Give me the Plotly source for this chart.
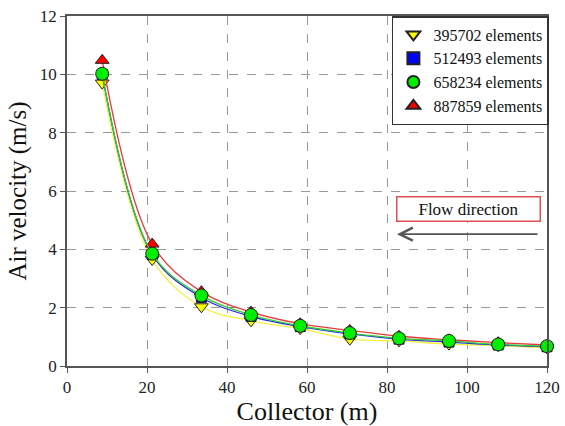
import plotly.graph_objects as go

x_pos = [8.8, 21.3, 33.6, 46.0, 58.3, 70.7, 83.0, 95.5, 107.8, 120.0]
v_395702 = [9.70, 3.65, 2.03, 1.55, 1.28, 0.92, 0.86, 0.75, 0.70, 0.62]
v_512493 = [10.00, 3.82, 2.35, 1.70, 1.35, 1.10, 0.92, 0.82, 0.72, 0.66]
v_658234 = [10.02, 3.85, 2.42, 1.75, 1.38, 1.13, 0.95, 0.86, 0.74, 0.68]
v_887859 = [10.48, 4.18, 2.55, 1.85, 1.45, 1.22, 1.02, 0.90, 0.80, 0.72]
names = ["395702 elements", "512493 elements", "658234 elements", "887859 elements"]

SERIF = "Liberation Serif, Times New Roman, serif"

fig = go.Figure()
series = [
    (v_395702, "#f5f03a", "#ffff00", "triangle-down", 12),
    (v_512493, "#2a2adf", "#0000ff", "square", 10),
    (v_887859, "#e83a3a", "#ff0000", "triangle-up", 12),
    (v_658234, "#33cc33", "#00ee00", "circle", 13),
]
order_names = [names[0], names[1], names[3], names[2]]
for (vals, lc, mc, sym, sz), nm in zip(series, order_names):
    fig.add_trace(go.Scatter(
        x=x_pos, y=vals, name=nm, mode="lines+markers",
        line=dict(color=lc, width=1.3, shape="spline", smoothing=1.0),
        marker=dict(symbol=sym, size=sz, color=mc, line=dict(color="#222222", width=1)),
        showlegend=False, cliponaxis=False,
    ))
# legend entries (markers only), in reference order
leg = [(names[0], "#ffff00", "triangle-down"), (names[1], "#0000ff", "square"),
       (names[2], "#00ee00", "circle"), (names[3], "#ff0000", "triangle-up")]
for nm, c, sym in leg:
    fig.add_trace(go.Scatter(
        x=[-50], y=[-50], name=nm, mode="markers",
        marker=dict(symbol=sym, size=12, color=c, line=dict(color="#222222", width=1)),
    ))

axis_common = dict(
    showline=True, linecolor="#555555", linewidth=1.5, mirror=True,
    ticks="outside", ticklen=5, tickcolor="#555555",
    showgrid=True, gridcolor="#999999", griddash="dash", gridwidth=1,
    zeroline=False, automargin=False, ticklabeloverflow="allow",
    tickfont=dict(family=SERIF, size=17, color="#222222"),
)
fig.update_xaxes(range=[0, 120], dtick=20, title=dict(text="Collector (m)",
                 font=dict(family=SERIF, size=26, color="#111111"), standoff=4),
                 **axis_common)
fig.update_yaxes(range=[0, 12], dtick=2, title=dict(text="Air velocity (m/s)",
                 font=dict(family=SERIF, size=25, color="#111111"), standoff=6),
                 **axis_common)

fig.add_annotation(x=0.9875, y=0.4486, xref="paper", yref="paper", text="Flow direction",
                   showarrow=False, font=dict(family=SERIF, size=17, color="#111111"),
                   bordercolor="#e05050", borderwidth=1.5, bgcolor="white", borderpad=2,
                   xanchor="right", yanchor="middle", width=138)
fig.add_annotation(x=82.5, y=4.52, ax=118, ay=4.52, xref="x", yref="y", axref="x", ayref="y",
                   text="", showarrow=True, arrowhead=5, arrowsize=1.6, arrowwidth=1.6,
                   arrowcolor="#555555")

fig.update_layout(
    width=565, height=426,
    margin=dict(l=67, r=18, t=16, b=60),
    font=dict(family=SERIF),
    paper_bgcolor="white", plot_bgcolor="white",
    legend=dict(x=1.004, y=1.0, xanchor="right", yanchor="top",
                bordercolor="#333333", borderwidth=1.5, bgcolor="white",
                font=dict(family=SERIF, size=16, color="#111111"),
                tracegroupgap=0, itemsizing="constant"),
)
fig.write_html(
    "out.html",
    config={"displayModeBar": False},
    post_script="document.body.style.margin='0';document.body.style.overflow='hidden';"
                "document.documentElement.style.overflow='hidden';",
)
